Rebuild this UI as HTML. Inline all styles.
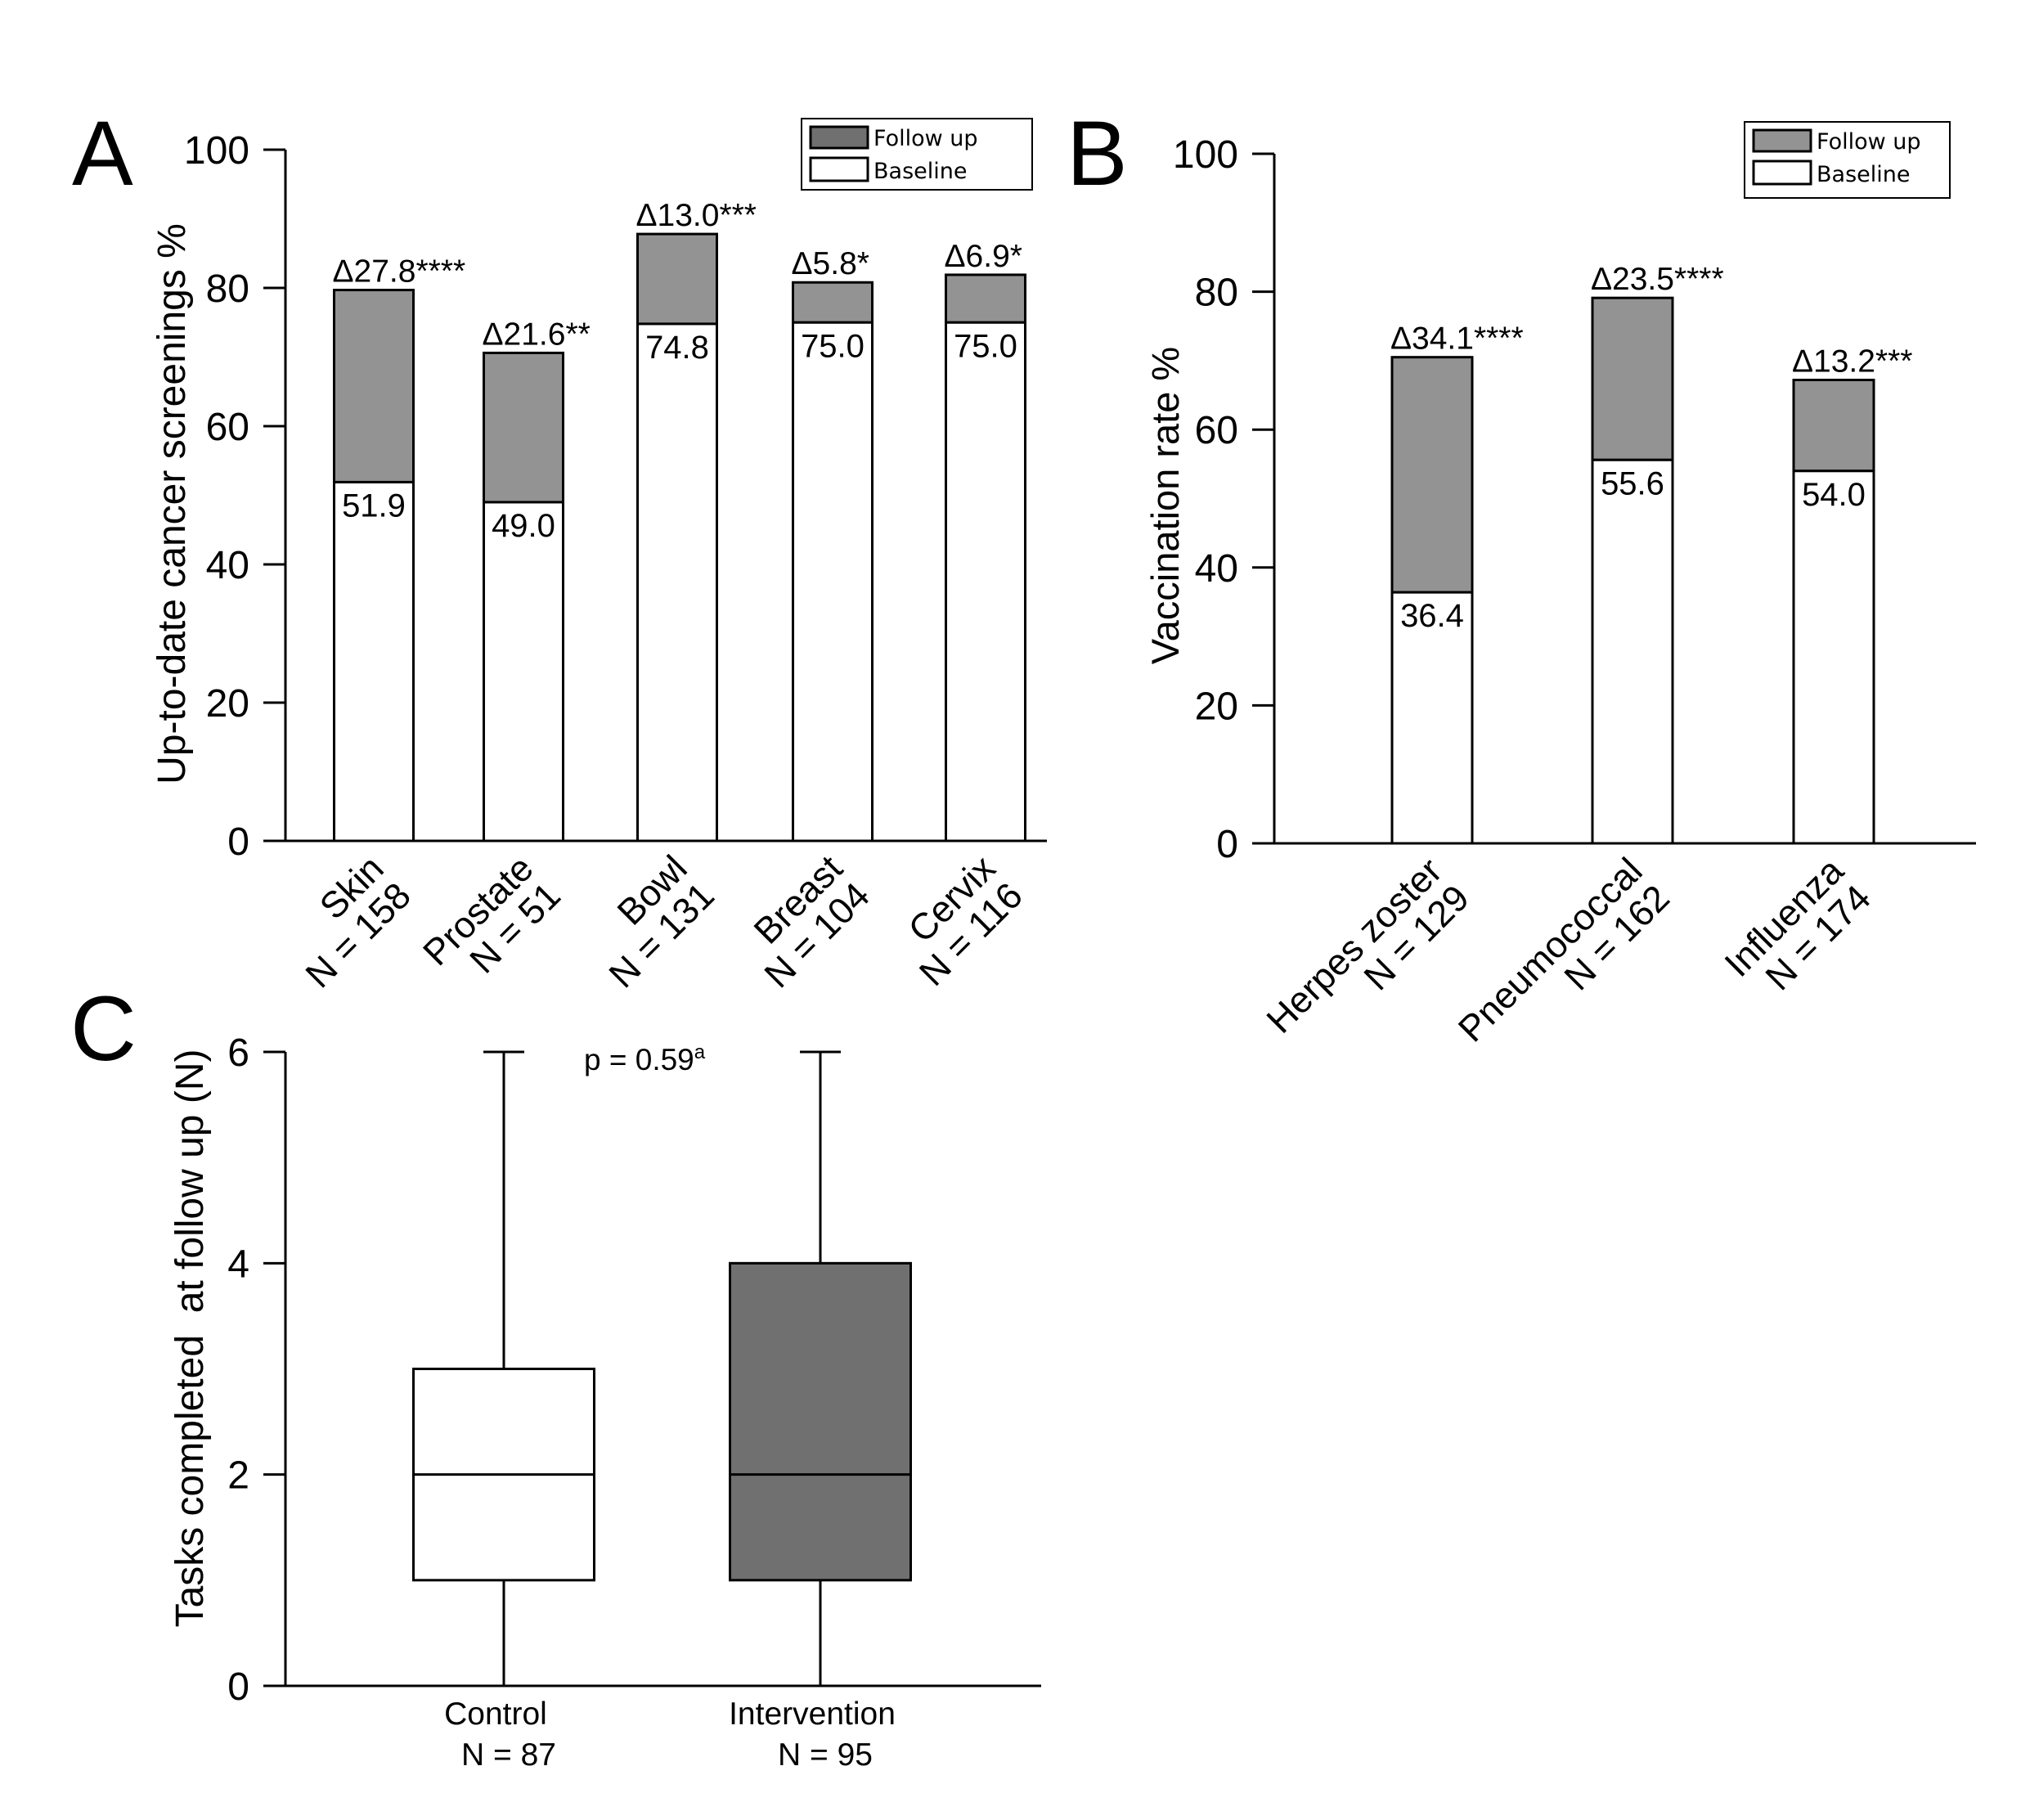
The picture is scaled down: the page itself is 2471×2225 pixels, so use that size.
<!DOCTYPE html>
<html><head><meta charset="utf-8"><style>
html,body{margin:0;padding:0;background:#fff;}
svg{display:block;font-family:"Liberation Sans",Arial,sans-serif;}
</style></head><body>
<svg id="fig" width="2471" height="2225" viewBox="0 0 2471 2225" xmlns="http://www.w3.org/2000/svg">
<rect width="2471" height="2225" fill="#fff"/>
</svg>
<script>
// Panel A data
const catA = ["Skin","Prostate","Bowl","Breast","Cervix"];
const nA = ["N = 158","N = 51","N = 131","N = 104","N = 116"];
const baseA = [51.9,49.0,74.8,75.0,75.0];
const deltaA = [27.8,21.6,13.0,5.8,6.9];
const starsA = ["****","**","***","*","*"];
const ticksA = [0,20,40,60,80,100];
// Panel B data
const catB = ["Herpes zoster","Pneumococcal","Influenza"];
const nB = ["N = 129","N = 162","N = 174"];
const baseB = [36.4,55.6,54.0];
const deltaB = [34.1,23.5,13.2];
const starsB = ["****","****","***"];
const ticksB = [0,20,40,60,80,100];
// Panel C data
const catC = ["Control","Intervention"];
const nC = ["N = 87","N = 95"];
const minC = [0,0];
const q1C = [1,1];
const medC = [2,2];
const q3C = [3,4];
const maxC = [6,6];
const ticksC = [0,2,4,6];

const NS="http://www.w3.org/2000/svg";
const svg=document.getElementById('fig');
function el(tag,attrs,parent,text){const e=document.createElementNS(NS,tag);for(const k in attrs)e.setAttribute(k,attrs[k]);if(text!==undefined)e.textContent=text;(parent||svg).appendChild(e);return e;}

function barPanel(cfg){
  const g=el('g',{});
  
  
  const y=v=>cfg.y0-(v-cfg.vmin)/(cfg.vmax-cfg.vmin)*(cfg.y0-cfg.y1);
  const ya=el('line',{x1:cfg.ax,y1:y(cfg.vmax),x2:cfg.ax,y2:cfg.y0,stroke:'#000','stroke-width':3},g);
  
  
  const xa=el('line',{x1:cfg.ax-27,y1:cfg.y0,x2:cfg.xEnd,y2:cfg.y0,stroke:'#000','stroke-width':3},g);
  
  
  cfg.ticks.forEach(t=>{
    el('line',{x1:cfg.ax-27,y1:y(t),x2:cfg.ax,y2:y(t),stroke:'#000','stroke-width':3},g);
    const tl=el('text',{x:cfg.ax-44,y:y(t)+17,'font-size':48,'text-anchor':'end'},g,String(t));
    
    
  });
  const tt=el('text',{transform:`translate(${cfg.titleX},${cfg.titleY}) rotate(-90)`,'font-size':cfg.titleSize,'text-anchor':'middle'},g,cfg.title);
  
  
  cfg.cats.forEach((c,i)=>{
    const cx=cfg.centers[i], w=cfg.bw, x=cx-w/2;
    const b=cfg.base[i], tot=b+cfg.delta[i];
    const fb=el('rect',{x:x,y:y(tot),width:w,height:y(b)-y(tot),fill:'#939393',stroke:'#000','stroke-width':3},g);
    
    
    const bb=el('rect',{x:x,y:y(b),width:w,height:y(0)-y(b),fill:'#fff',stroke:'#000','stroke-width':3},g);
    
    
    const dl=el('text',{x:x-2,y:y(tot)-10,'font-size':39},g,'\u0394'+cfg.delta[i].toFixed(1)+cfg.stars[i]);
    
    
    const vl=el('text',{x:cx,y:y(b)+42,'font-size':40,'text-anchor':'middle'},g,b.toFixed(1));
    
    
    const lx=cx-8, ly=cfg.y0+14;
    const xl=el('text',{transform:`translate(${lx},${ly}) rotate(-45)`,'font-size':45,'text-anchor':'end'},g);
    
    
    el('tspan',{x:0,y:32},xl,c);
    el('tspan',{x:0,dy:47},xl,cfg.ns[i]);
  });
  const L=cfg.legend;
  const lg=el('g',{},g);
  
  
  el('rect',{x:L.x,y:L.y,width:L.w,height:L.h,fill:'#fff',stroke:'#000','stroke-width':2},lg);
  const s1=el('rect',{x:L.x+11,y:L.y+10,width:70,height:26,fill:L.sw,stroke:'#000','stroke-width':3},lg);
  
  
  const s2=el('rect',{x:L.x+11,y:L.y+48,width:70,height:28,fill:'#fff',stroke:'#000','stroke-width':3},lg);
  
  
  const t1=el('text',{x:L.x+88,y:L.y+33,'font-size':27,'font-family':'"DejaVu Sans",sans-serif'},lg,'Follow up');
  
  
  const t2=el('text',{x:L.x+88,y:L.y+73,'font-size':27,'font-family':'"DejaVu Sans",sans-serif'},lg,'Baseline');
  
  
  const pl=el('text',{x:cfg.letterX,y:cfg.letterY,'font-size':112},g,cfg.letter);
  
  
}

barPanel({name:'panel-a-chart',ax:349,y0:1028,y1:183,vmin:0,vmax:100,xEnd:1280,ticks:ticksA,
  cats:catA,ns:nA,base:baseA,delta:deltaA,stars:starsA,centers:[457,640,828,1018,1205],bw:97,
  title:'Up-to-date cancer screenings %',titleSize:48,titleX:226,titleY:616,
  legend:{x:980,y:145,w:282,h:87,sw:'#707070'},letter:'A',letterX:88,letterY:226});
barPanel({name:'panel-b-chart',ax:1558,y0:1031,y1:188,vmin:0,vmax:100,xEnd:2416,ticks:ticksB,
  cats:catB,ns:nB,base:baseB,delta:deltaB,stars:starsB,centers:[1751,1996,2242],bw:98,
  title:'Vaccination rate %',titleSize:47,titleX:1441,titleY:618,
  legend:{x:2133,y:149,w:251,h:93,sw:'#939393'},letter:'B',letterX:1304,letterY:226});

(function(){
  const g=el('g',{});
  
  
  const ax=349,y0=2061,y1=1286,vmax=6;
  const y=v=>y0-v/vmax*(y0-y1);
  const ya=el('line',{x1:ax,y1:y(vmax),x2:ax,y2:y0,stroke:'#000','stroke-width':3},g);
  
  
  const xa=el('line',{x1:ax-27,y1:y0,x2:1273,y2:y0,stroke:'#000','stroke-width':3},g);
  
  
  ticksC.forEach(t=>{
    el('line',{x1:ax-27,y1:y(t),x2:ax,y2:y(t),stroke:'#000','stroke-width':3},g);
    const tl=el('text',{x:ax-44,y:y(t)+17,'font-size':48,'text-anchor':'end'},g,String(t));
    
    
  });
  const tt=el('text',{transform:'translate(248,1636) rotate(-90)','font-size':48,'text-anchor':'middle','style':'white-space:pre'},g,'Tasks completed  at follow up (N)');
  
  
  const centers=[616,1003], bw=221, fills=['#fff','#707070'];
  catC.forEach((c,i)=>{
    const cx=centers[i];
    const wh=el('line',{x1:cx,y1:y(maxC[i]),x2:cx,y2:y(minC[i]),stroke:'#000','stroke-width':3},g);
    
    
    el('line',{x1:cx-25,y1:y(maxC[i]),x2:cx+25,y2:y(maxC[i]),stroke:'#000','stroke-width':3},g);
    const bx=el('rect',{x:cx-bw/2,y:y(q3C[i]),width:bw,height:y(q1C[i])-y(q3C[i]),fill:fills[i],stroke:'#000','stroke-width':3},g);
    
    
    const md=el('line',{x1:cx-bw/2,y1:y(medC[i]),x2:cx+bw/2,y2:y(medC[i]),stroke:'#000','stroke-width':3},g);
    
    
    const l1=el('text',{x:cx-10,y:2108,'font-size':39,'text-anchor':'middle'},g,c);
    
    
    const l2=el('text',{x:cx+6,y:2158,'font-size':39,'text-anchor':'middle'},g,nC[i]);
    
    
  });
  const pv=el('text',{x:714,y:1308,'font-size':37},g);
  
  
  el('tspan',{},pv,'p = 0.59');
  el('tspan',{'font-size':24,dy:-14},pv,'a');
  const pl=el('text',{x:86,y:1296,'font-size':112},g,'C');
  
  
})();
</script>
</body></html>
